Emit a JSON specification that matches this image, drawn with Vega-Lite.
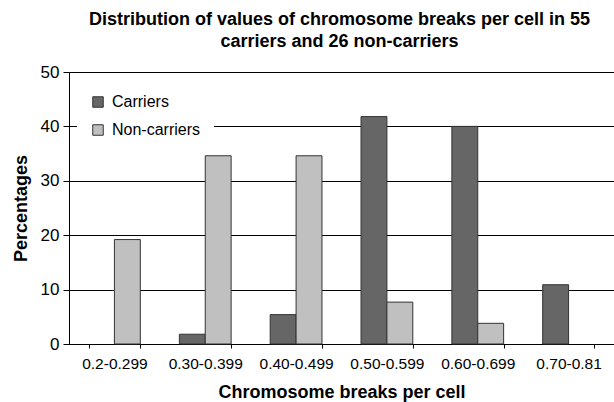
{
  "$schema": "https://vega.github.io/schema/vega-lite/v6.json",
  "autosize": {"type": "none"},
  "padding": {"left": 69, "top": 72, "right": 0, "bottom": 58},
  "width": 545,
  "height": 272,
  "background": "white",
  "title": {
    "text": ["Distribution of values of chromosome breaks per cell in 55", "carriers and 26 non-carriers"],
    "font": "Liberation Sans",
    "fontSize": 18,
    "fontWeight": "bold",
    "color": "black",
    "anchor": "middle",
    "lineHeight": 22,
    "offset": 12,
    "dx": -2
  },
  "config": {
    "view": {"stroke": null},
    "font": "Liberation Sans"
  },
  "data": {
    "values": [
      {"range": "0.2-0.299", "group": "Non-carriers", "pct": 19.2},
      {"range": "0.30-0.399", "group": "Carriers", "pct": 1.8},
      {"range": "0.30-0.399", "group": "Non-carriers", "pct": 34.6},
      {"range": "0.40-0.499", "group": "Carriers", "pct": 5.4},
      {"range": "0.40-0.499", "group": "Non-carriers", "pct": 34.6},
      {"range": "0.50-0.599", "group": "Carriers", "pct": 41.8},
      {"range": "0.50-0.599", "group": "Non-carriers", "pct": 7.7},
      {"range": "0.60-0.699", "group": "Carriers", "pct": 40.0},
      {"range": "0.60-0.699", "group": "Non-carriers", "pct": 3.8},
      {"range": "0.70-0.81", "group": "Carriers", "pct": 10.9}
    ]
  },
  "mark": {"type": "bar", "stroke": "#333333", "strokeWidth": 1},
  "encoding": {
    "x": {
      "field": "range",
      "type": "nominal",
      "sort": ["0.2-0.299", "0.30-0.399", "0.40-0.499", "0.50-0.599", "0.60-0.699", "0.70-0.81"],
      "scale": {"paddingInner": 0.43, "paddingOuter": 0.215},
      "axis": {
        "title": "Chromosome breaks per cell",
        "titleFont": "Liberation Sans",
        "titleFontSize": 18,
        "titleFontWeight": "bold",
        "titleColor": "black",
        "titlePadding": 12,
        "labelAngle": 0,
        "labelFontSize": 15.5,
        "labelColor": "black",
        "labelPadding": 8,
        "domainColor": "black",
        "tickColor": "black",
        "tickSize": 4,
        "tickBand": "extent",
        "grid": false
      }
    },
    "xOffset": {"field": "group", "type": "nominal", "scale": {"domain": ["Carriers", "Non-carriers"]}},
    "y": {
      "field": "pct",
      "type": "quantitative",
      "scale": {"domain": [0, 50]},
      "axis": {
        "title": "Percentages",
        "titleFont": "Liberation Sans",
        "titleFontSize": 18,
        "titleFontWeight": "bold",
        "titleColor": "black",
        "titlePadding": 10,
        "values": [0, 10, 20, 30, 40, 50],
        "labelFontSize": 17,
        "labelColor": "black",
        "labelPadding": 4,
        "domainColor": "black",
        "tickColor": "black",
        "tickSize": 6,
        "grid": true,
        "gridColor": "black",
        "gridWidth": 1
      }
    },
    "color": {
      "field": "group",
      "type": "nominal",
      "scale": {"domain": ["Carriers", "Non-carriers"], "range": ["#666666", "#c0c0c0"]},
      "legend": {
        "title": null,
        "orient": "none",
        "legendX": 8,
        "legendY": 9,
        "fillColor": "white",
        "padding": 13,
        "symbolType": "square",
        "symbolSize": 110,
        "symbolStrokeColor": "#333333",
        "symbolStrokeWidth": 1,
        "labelFontSize": 16,
        "labelColor": "black",
        "labelFont": "Liberation Sans",
        "rowPadding": 12,
        "labelOffset": 6
      }
    }
  }
}
